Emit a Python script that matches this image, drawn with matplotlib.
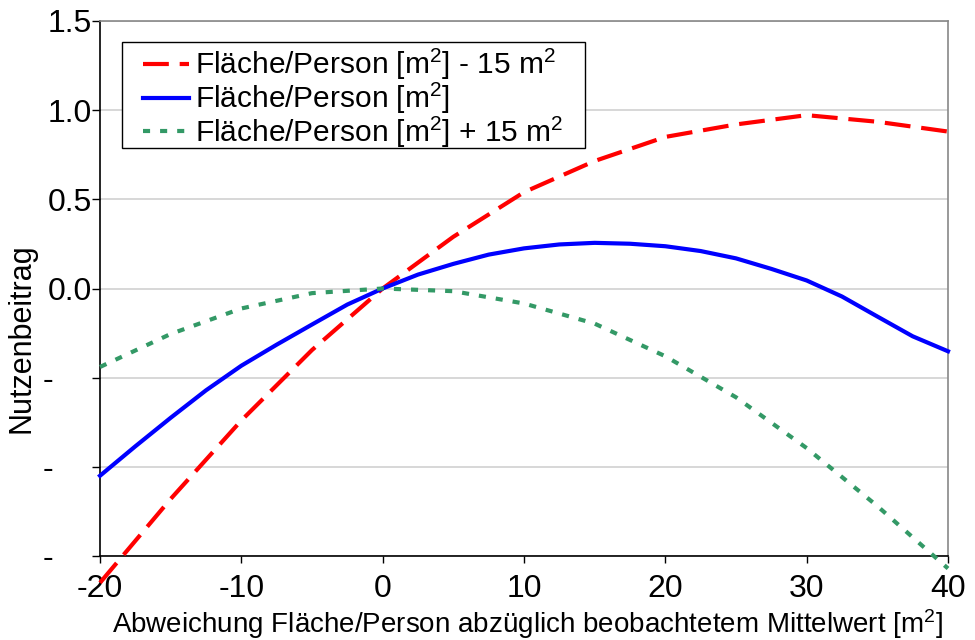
import numpy as np
import matplotlib
matplotlib.use("Agg")
import matplotlib.pyplot as plt
from matplotlib.patches import Rectangle
from matplotlib.transforms import ScaledTranslation

plt.rcParams["font.family"] = ["Liberation Sans", "DejaVu Sans"]
plt.rcParams["mathtext.default"] = "regular"

# ============================================================
# Daten
# ============================================================
x_coarse = [-20, -15, -10, -5, 0, 5, 10, 15, 20, 25, 30, 35, 40]
x_fine = [-20, -17.5, -15, -12.5, -10, -7.5, -5, -2.5, 0, 2.5, 5, 7.5, 10,
          12.5, 15, 17.5, 20, 22.5, 25, 27.5, 30, 32.5, 35, 37.5, 40]

# Fläche/Person - 15 m2
minus15 = [-1.65, -1.18, -0.74, -0.345, 0.0, 0.29, 0.54, 0.715, 0.85,
           0.92, 0.972, 0.935, 0.88]
# Fläche/Person
base = [-1.05, -0.885, -0.725, -0.571, -0.433, -0.315, -0.202, -0.09, 0.0,
        0.078, 0.138, 0.19, 0.225, 0.247, 0.256, 0.251, 0.237, 0.21, 0.169,
        0.11, 0.045, -0.045, -0.157, -0.268, -0.352]
# Fläche/Person + 15 m2
plus15 = [-0.44, -0.255, -0.112, -0.026, 0.0, -0.015, -0.084, -0.197,
          -0.38, -0.61, -0.895, -1.22, -1.57]

labels = [
    "Fläche/Person [m$^2$] - 15 m$^2$",
    "Fläche/Person [m$^2$]",
    "Fläche/Person [m$^2$] + 15 m$^2$",
]

x_ticks = [-20, -10, 0, 10, 20, 30, 40]
y_ticks = [-1.5, -1.0, -0.5, 0.0, 0.5, 1.0, 1.5]
y_ticklabels = ["-", "-", "-", "0.0", "0.5", "1.0", "1.5"]

# ============================================================
# Plot
# ============================================================
fig = plt.figure(figsize=(9.75, 6.4), dpi=100)
ax = fig.add_axes([100 / 975, 1 - 556 / 640, 848 / 975, 535 / 640])

ax.plot(x_coarse, minus15, color="#ff0000", lw=3, dashes=(6.2, 2.6),
        clip_on=False, label=labels[0], zorder=3)
ax.plot(x_fine, base, color="#0000ff", lw=3,
        clip_on=False, label=labels[1], zorder=3)
ax.plot(x_coarse, plus15, color="#339966", lw=3, dashes=(1.7, 2.4),
        clip_on=False, label=labels[2], zorder=3)

ax.set_xlim(-20, 40)
ax.set_ylim(-1.5, 1.5)

ax.set_xticks(x_ticks)
ax.set_xticklabels([str(v) for v in x_ticks])
ax.set_yticks(y_ticks)
ax.set_yticklabels(y_ticklabels)

ax.tick_params(axis="both", labelsize=23, direction="out", width=1,
               color="black")
ax.tick_params(axis="y", length=6, pad=0)
ax.tick_params(axis="x", length=5, pad=8)

# abgeschnittene negative Beschriftungen nach links schieben
for lab, val in zip(ax.get_yticklabels(), y_ticks):
    if val < 0:
        lab.set_transform(lab.get_transform()
                          + ScaledTranslation(-0.385, 0, fig.dpi_scale_trans))

ax.grid(axis="y", color="#d4d4d4", lw=1.3)
ax.set_axisbelow(True)

for s in ["left", "bottom"]:
    ax.spines[s].set_color("black")
    ax.spines[s].set_linewidth(1.2)
for s in ["top", "right"]:
    ax.spines[s].set_color("#888888")
    ax.spines[s].set_linewidth(1.2)

ax.set_xlabel("Abweichung Fläche/Person abzüglich beobachtetem Mittelwert [m$^2$]",
              fontsize=20)
ax.xaxis.set_label_coords(0.504, -0.095)
ax.set_ylabel("Nutzenbeitrag", fontsize=22)
ax.yaxis.set_label_coords(-0.075, 0.408)

# Legende: Rahmen separat, damit links mehr Platz bleibt
ax.add_patch(Rectangle((0.0259, 0.7626), 0.546, 0.198, transform=ax.transAxes,
                       facecolor="white", edgecolor="black", lw=1.0,
                       zorder=4))
leg = ax.legend(loc="upper left", bbox_to_anchor=(0.0507, 0.951),
                borderaxespad=0, fontsize=21.5, frameon=False,
                handlelength=1.55, handletextpad=0.2, labelspacing=-0.05,
                borderpad=0)
leg.set_zorder(5)

fig.savefig("out.png", dpi=100)
